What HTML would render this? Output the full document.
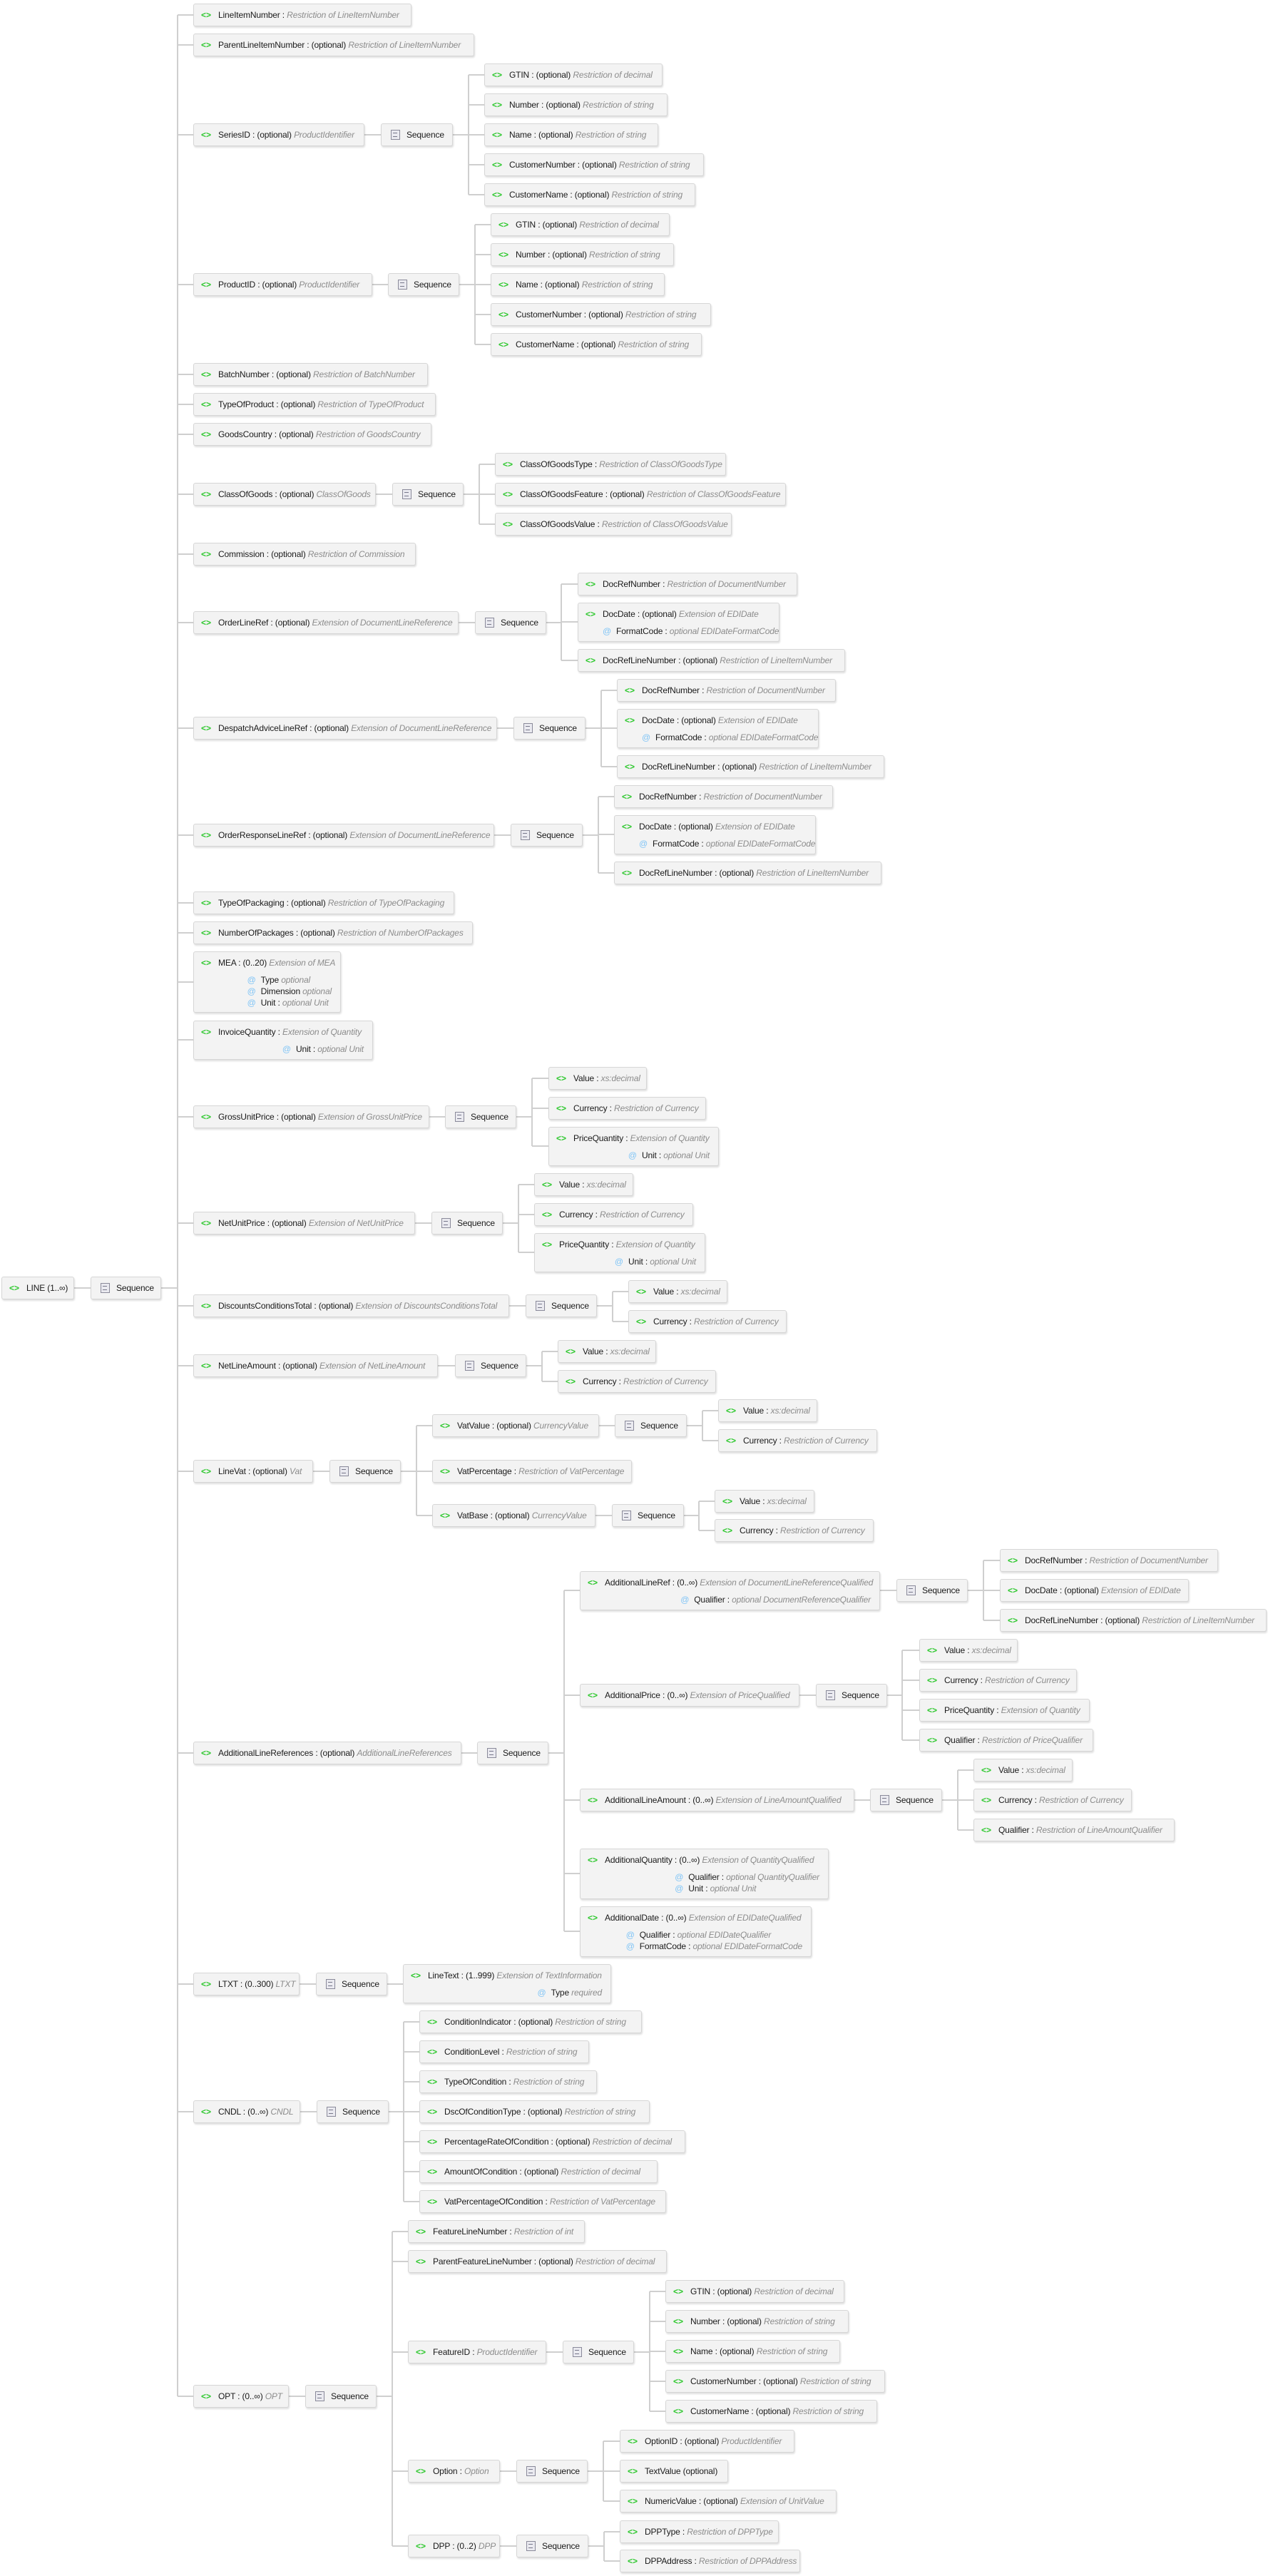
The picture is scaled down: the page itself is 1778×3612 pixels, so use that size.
<!DOCTYPE html>
<html><head><meta charset="utf-8">
<style>
html,body{margin:0;padding:0;background:#fff;}
body{width:1778px;height:3612px;position:relative;overflow:hidden;font-family:"Liberation Sans",sans-serif;font-size:12px;color:#1a1a1a;letter-spacing:-0.15px;}
svg{position:absolute;left:0;top:0;}
.e,.s{position:absolute;box-sizing:border-box;height:32px;background:#f3f3f3;border:1px solid #d6d6d6;border-radius:3px;box-shadow:1px 2px 2px rgba(0,0,0,0.13);white-space:nowrap;}
.e{padding-left:34px;line-height:30px;}
.e i.g{position:absolute;left:10px;top:0;font-style:normal;font-weight:bold;color:#2ec82e;letter-spacing:0;}
.e em{color:#8c8c8c;font-style:italic;}
.e .at{text-align:right;padding-right:12px;line-height:16px;margin-top:1px;}
.e .at div{display:inline-block;text-align:left;}
.e .at u{text-decoration:none;color:#7fc4f6;margin-right:7px;}
.s{line-height:30px;padding-left:35px;}
.s:before{content:"";position:absolute;left:13px;top:8px;width:11px;height:12px;border:1px solid #8a8a9a;background:#eaeaf0;}
.s:after{content:"";position:absolute;left:16px;top:12px;width:6px;height:4px;border-top:1px solid #77778a;border-bottom:1px solid #77778a;}
</style></head><body>
<svg width="1778" height="3612" viewBox="0 0 1778 3612"><g stroke="#cfcfcf" stroke-width="2" fill="none">
<path d="M104 1806H127M226 1806H249M249 21V3360"/>
<path d="M249 21H271M249 63H271M249 189H271M249 399H271M249 525H271M249 567H271M249 609H271M249 693H271M249 777H271M249 873H271M249 1021H271M249 1171H271M249 1266H271M249 1308H271M249 1377H271M249 1458H271M249 1566H271M249 1715H271M249 1831H271M249 1915H271M249 2063H271M249 2458H271M249 2782H271M249 2961H271M249 3360H271"/>
<path d="M511 189H534M635 189H657M657 105V273M657 105H679M657 147H679M657 189H679M657 231H679M657 273H679"/>
<path d="M522 399H544M644 399H666M666 315V483M666 315H688M666 357H688M666 399H688M666 441H688M666 483H688"/>
<path d="M527 693H550M650 693H672M672 651V735M672 651H694M672 693H694M672 735H694"/>
<path d="M643 873H666M766 873H787M787 819V926M787 819H810M787 872H810M787 926H810"/>
<path d="M697 1021H720M821 1021H843M843 968V1075M843 968H865M843 1021H865M843 1075H865"/>
<path d="M693 1171H716M817 1171H839M839 1117V1224M839 1117H861M839 1170H861M839 1224H861"/>
<path d="M602 1566H624M724 1566H746M746 1512V1607M746 1512H769M746 1554H769M746 1607H769"/>
<path d="M582 1715H605M705 1715H727M727 1661V1756M727 1661H749M727 1703H749M727 1756H749"/>
<path d="M714 1831H737M837 1831H859M859 1811V1853M859 1811H881M859 1853H881"/>
<path d="M614 1915H638M738 1915H760M760 1895V1937M760 1895H782M760 1937H782"/>
<path d="M439 2063H462M562 2063H584M584 1999V2125M584 1999H606M584 2063H606M584 2125H606"/>
<path d="M840 1999H862M963 1999H985M985 1978V2020M985 1978H1007M985 2020H1007"/>
<path d="M835 2125H858M959 2125H980M980 2105V2146M980 2105H1002M980 2146H1002"/>
<path d="M647 2458H669M769 2458H791M791 2230V2708M791 2230H813M791 2377H813M791 2524H813M791 2627H813M791 2708H813"/>
<path d="M1234 2230H1257M1357 2230H1379M1379 2188V2272M1379 2188H1402M1379 2230H1402M1379 2272H1402"/>
<path d="M1121 2377H1144M1244 2377H1265M1265 2314V2440M1265 2314H1289M1265 2356H1289M1265 2398H1289M1265 2440H1289"/>
<path d="M1198 2524H1220M1321 2524H1343M1343 2482V2566M1343 2482H1365M1343 2524H1365M1343 2566H1365"/>
<path d="M420 2782H443M543 2782H565"/>
<path d="M421 2961H444M545 2961H566M566 2835V3087M566 2835H588M566 2877H588M566 2919H588M566 2961H588M566 3003H588M566 3045H588M566 3087H588"/>
<path d="M405 3360H428M528 3360H550M550 3129V3570M550 3129H572M550 3171H572M550 3298H572M550 3465H572M550 3570H572"/>
<path d="M766 3298H789M889 3298H911M911 3213V3381M911 3213H933M911 3255H933M911 3297H933M911 3339H933M911 3381H933"/>
<path d="M701 3465H724M824 3465H846M846 3423V3507M846 3423H869M846 3465H869M846 3507H869"/>
<path d="M701 3570H724M825 3570H847M847 3550V3591M847 3550H869M847 3591H869"/>
</g></svg>

<div class="e" style="left:2px;top:1790px;width:102px"><i class="g">&lt;&gt;</i>LINE (1..∞)</div>
<div class="s" style="left:127px;top:1790px;width:99px">Sequence</div>

<div class="e" style="left:271px;top:5px;width:306px"><i class="g">&lt;&gt;</i>LineItemNumber : <em>Restriction of LineItemNumber</em></div>
<div class="e" style="left:271px;top:47px;width:394px"><i class="g">&lt;&gt;</i>ParentLineItemNumber : (optional) <em>Restriction of LineItemNumber</em></div>

<div class="e" style="left:271px;top:173px;width:240px"><i class="g">&lt;&gt;</i>SeriesID : (optional) <em>ProductIdentifier</em></div>
<div class="s" style="left:534px;top:173px;width:101px">Sequence</div>
<div class="e" style="left:679px;top:89px;width:250px"><i class="g">&lt;&gt;</i>GTIN : (optional) <em>Restriction of decimal</em></div>
<div class="e" style="left:679px;top:131px;width:257px"><i class="g">&lt;&gt;</i>Number : (optional) <em>Restriction of string</em></div>
<div class="e" style="left:679px;top:173px;width:244px"><i class="g">&lt;&gt;</i>Name : (optional) <em>Restriction of string</em></div>
<div class="e" style="left:679px;top:215px;width:308px"><i class="g">&lt;&gt;</i>CustomerNumber : (optional) <em>Restriction of string</em></div>
<div class="e" style="left:679px;top:257px;width:296px"><i class="g">&lt;&gt;</i>CustomerName : (optional) <em>Restriction of string</em></div>

<div class="e" style="left:271px;top:383px;width:251px"><i class="g">&lt;&gt;</i>ProductID : (optional) <em>ProductIdentifier</em></div>
<div class="s" style="left:544px;top:383px;width:100px">Sequence</div>
<div class="e" style="left:688px;top:299px;width:251px"><i class="g">&lt;&gt;</i>GTIN : (optional) <em>Restriction of decimal</em></div>
<div class="e" style="left:688px;top:341px;width:257px"><i class="g">&lt;&gt;</i>Number : (optional) <em>Restriction of string</em></div>
<div class="e" style="left:688px;top:383px;width:244px"><i class="g">&lt;&gt;</i>Name : (optional) <em>Restriction of string</em></div>
<div class="e" style="left:688px;top:425px;width:309px"><i class="g">&lt;&gt;</i>CustomerNumber : (optional) <em>Restriction of string</em></div>
<div class="e" style="left:688px;top:467px;width:296px"><i class="g">&lt;&gt;</i>CustomerName : (optional) <em>Restriction of string</em></div>

<div class="e" style="left:271px;top:509px;width:329px"><i class="g">&lt;&gt;</i>BatchNumber : (optional) <em>Restriction of BatchNumber</em></div>
<div class="e" style="left:271px;top:551px;width:340px"><i class="g">&lt;&gt;</i>TypeOfProduct : (optional) <em>Restriction of TypeOfProduct</em></div>
<div class="e" style="left:271px;top:593px;width:334px"><i class="g">&lt;&gt;</i>GoodsCountry : (optional) <em>Restriction of GoodsCountry</em></div>

<div class="e" style="left:271px;top:677px;width:256px"><i class="g">&lt;&gt;</i>ClassOfGoods : (optional) <em>ClassOfGoods</em></div>
<div class="s" style="left:550px;top:677px;width:100px">Sequence</div>
<div class="e" style="left:694px;top:635px;width:324px"><i class="g">&lt;&gt;</i>ClassOfGoodsType : <em>Restriction of ClassOfGoodsType</em></div>
<div class="e" style="left:694px;top:677px;width:408px"><i class="g">&lt;&gt;</i>ClassOfGoodsFeature : (optional) <em>Restriction of ClassOfGoodsFeature</em></div>
<div class="e" style="left:694px;top:719px;width:332px"><i class="g">&lt;&gt;</i>ClassOfGoodsValue : <em>Restriction of ClassOfGoodsValue</em></div>

<div class="e" style="left:271px;top:761px;width:312px"><i class="g">&lt;&gt;</i>Commission : (optional) <em>Restriction of Commission</em></div>

<div class="e" style="left:271px;top:857px;width:372px"><i class="g">&lt;&gt;</i>OrderLineRef : (optional) <em>Extension of DocumentLineReference</em></div>
<div class="s" style="left:666px;top:857px;width:100px">Sequence</div>
<div class="e" style="left:810px;top:803px;width:308px"><i class="g">&lt;&gt;</i>DocRefNumber : <em>Restriction of DocumentNumber</em></div>
<div class="e" style="left:810px;top:845px;width:283px;height:55px"><i class="g">&lt;&gt;</i>DocDate : (optional) <em>Extension of EDIDate</em><div class="at"><div><u>@</u>FormatCode : <em>optional EDIDateFormatCode</em></div></div></div>
<div class="e" style="left:810px;top:910px;width:375px"><i class="g">&lt;&gt;</i>DocRefLineNumber : (optional) <em>Restriction of LineItemNumber</em></div>

<div class="e" style="left:271px;top:1005px;width:426px"><i class="g">&lt;&gt;</i>DespatchAdviceLineRef : (optional) <em>Extension of DocumentLineReference</em></div>
<div class="s" style="left:720px;top:1005px;width:101px">Sequence</div>
<div class="e" style="left:865px;top:952px;width:307px"><i class="g">&lt;&gt;</i>DocRefNumber : <em>Restriction of DocumentNumber</em></div>
<div class="e" style="left:865px;top:994px;width:283px;height:55px"><i class="g">&lt;&gt;</i>DocDate : (optional) <em>Extension of EDIDate</em><div class="at"><div><u>@</u>FormatCode : <em>optional EDIDateFormatCode</em></div></div></div>
<div class="e" style="left:865px;top:1059px;width:375px"><i class="g">&lt;&gt;</i>DocRefLineNumber : (optional) <em>Restriction of LineItemNumber</em></div>

<div class="e" style="left:271px;top:1155px;width:422px"><i class="g">&lt;&gt;</i>OrderResponseLineRef : (optional) <em>Extension of DocumentLineReference</em></div>
<div class="s" style="left:716px;top:1155px;width:101px">Sequence</div>
<div class="e" style="left:861px;top:1101px;width:307px"><i class="g">&lt;&gt;</i>DocRefNumber : <em>Restriction of DocumentNumber</em></div>
<div class="e" style="left:861px;top:1143px;width:283px;height:55px"><i class="g">&lt;&gt;</i>DocDate : (optional) <em>Extension of EDIDate</em><div class="at"><div><u>@</u>FormatCode : <em>optional EDIDateFormatCode</em></div></div></div>
<div class="e" style="left:861px;top:1208px;width:375px"><i class="g">&lt;&gt;</i>DocRefLineNumber : (optional) <em>Restriction of LineItemNumber</em></div>

<div class="e" style="left:271px;top:1250px;width:366px"><i class="g">&lt;&gt;</i>TypeOfPackaging : (optional) <em>Restriction of TypeOfPackaging</em></div>
<div class="e" style="left:271px;top:1292px;width:392px"><i class="g">&lt;&gt;</i>NumberOfPackages : (optional) <em>Restriction of NumberOfPackages</em></div>
<div class="e" style="left:271px;top:1334px;width:207px;height:86px"><i class="g">&lt;&gt;</i>MEA : (0..20) <em>Extension of MEA</em><div class="at"><div><u>@</u>Type <em>optional</em><br><u>@</u>Dimension <em>optional</em><br><u>@</u>Unit : <em>optional Unit</em></div></div></div>
<div class="e" style="left:271px;top:1431px;width:252px;height:55px"><i class="g">&lt;&gt;</i>InvoiceQuantity : <em>Extension of Quantity</em><div class="at"><div><u>@</u>Unit : <em>optional Unit</em></div></div></div>

<div class="e" style="left:271px;top:1550px;width:331px"><i class="g">&lt;&gt;</i>GrossUnitPrice : (optional) <em>Extension of GrossUnitPrice</em></div>
<div class="s" style="left:624px;top:1550px;width:100px">Sequence</div>
<div class="e" style="left:769px;top:1496px;width:138px"><i class="g">&lt;&gt;</i>Value : <em>xs:decimal</em></div>
<div class="e" style="left:769px;top:1538px;width:221px"><i class="g">&lt;&gt;</i>Currency : <em>Restriction of Currency</em></div>
<div class="e" style="left:769px;top:1580px;width:239px;height:55px"><i class="g">&lt;&gt;</i>PriceQuantity : <em>Extension of Quantity</em><div class="at"><div><u>@</u>Unit : <em>optional Unit</em></div></div></div>

<div class="e" style="left:271px;top:1699px;width:311px"><i class="g">&lt;&gt;</i>NetUnitPrice : (optional) <em>Extension of NetUnitPrice</em></div>
<div class="s" style="left:605px;top:1699px;width:100px">Sequence</div>
<div class="e" style="left:749px;top:1645px;width:139px"><i class="g">&lt;&gt;</i>Value : <em>xs:decimal</em></div>
<div class="e" style="left:749px;top:1687px;width:223px"><i class="g">&lt;&gt;</i>Currency : <em>Restriction of Currency</em></div>
<div class="e" style="left:749px;top:1729px;width:240px;height:55px"><i class="g">&lt;&gt;</i>PriceQuantity : <em>Extension of Quantity</em><div class="at"><div><u>@</u>Unit : <em>optional Unit</em></div></div></div>

<div class="e" style="left:271px;top:1815px;width:443px"><i class="g">&lt;&gt;</i>DiscountsConditionsTotal : (optional) <em>Extension of DiscountsConditionsTotal</em></div>
<div class="s" style="left:737px;top:1815px;width:100px">Sequence</div>
<div class="e" style="left:881px;top:1795px;width:139px"><i class="g">&lt;&gt;</i>Value : <em>xs:decimal</em></div>
<div class="e" style="left:881px;top:1837px;width:222px"><i class="g">&lt;&gt;</i>Currency : <em>Restriction of Currency</em></div>

<div class="e" style="left:271px;top:1899px;width:343px"><i class="g">&lt;&gt;</i>NetLineAmount : (optional) <em>Extension of NetLineAmount</em></div>
<div class="s" style="left:638px;top:1899px;width:100px">Sequence</div>
<div class="e" style="left:782px;top:1879px;width:138px"><i class="g">&lt;&gt;</i>Value : <em>xs:decimal</em></div>
<div class="e" style="left:782px;top:1921px;width:222px"><i class="g">&lt;&gt;</i>Currency : <em>Restriction of Currency</em></div>

<div class="e" style="left:271px;top:2047px;width:168px"><i class="g">&lt;&gt;</i>LineVat : (optional) <em>Vat</em></div>
<div class="s" style="left:462px;top:2047px;width:100px">Sequence</div>
<div class="e" style="left:606px;top:1983px;width:234px"><i class="g">&lt;&gt;</i>VatValue : (optional) <em>CurrencyValue</em></div>
<div class="s" style="left:862px;top:1983px;width:101px">Sequence</div>
<div class="e" style="left:1007px;top:1962px;width:139px"><i class="g">&lt;&gt;</i>Value : <em>xs:decimal</em></div>
<div class="e" style="left:1007px;top:2004px;width:223px"><i class="g">&lt;&gt;</i>Currency : <em>Restriction of Currency</em></div>
<div class="e" style="left:606px;top:2047px;width:280px"><i class="g">&lt;&gt;</i>VatPercentage : <em>Restriction of VatPercentage</em></div>
<div class="e" style="left:606px;top:2109px;width:229px"><i class="g">&lt;&gt;</i>VatBase : (optional) <em>CurrencyValue</em></div>
<div class="s" style="left:858px;top:2109px;width:101px">Sequence</div>
<div class="e" style="left:1002px;top:2089px;width:140px"><i class="g">&lt;&gt;</i>Value : <em>xs:decimal</em></div>
<div class="e" style="left:1002px;top:2130px;width:223px"><i class="g">&lt;&gt;</i>Currency : <em>Restriction of Currency</em></div>

<div class="e" style="left:271px;top:2442px;width:376px"><i class="g">&lt;&gt;</i>AdditionalLineReferences : (optional) <em>AdditionalLineReferences</em></div>
<div class="s" style="left:669px;top:2442px;width:100px">Sequence</div>
<div class="e" style="left:813px;top:2203px;width:421px;height:55px"><i class="g">&lt;&gt;</i>AdditionalLineRef : (0..∞) <em>Extension of DocumentLineReferenceQualified</em><div class="at"><div><u>@</u>Qualifier : <em>optional DocumentReferenceQualifier</em></div></div></div>
<div class="s" style="left:1257px;top:2214px;width:100px">Sequence</div>
<div class="e" style="left:1402px;top:2172px;width:306px"><i class="g">&lt;&gt;</i>DocRefNumber : <em>Restriction of DocumentNumber</em></div>
<div class="e" style="left:1402px;top:2214px;width:265px"><i class="g">&lt;&gt;</i>DocDate : (optional) <em>Extension of EDIDate</em></div>
<div class="e" style="left:1402px;top:2256px;width:374px"><i class="g">&lt;&gt;</i>DocRefLineNumber : (optional) <em>Restriction of LineItemNumber</em></div>
<div class="e" style="left:813px;top:2361px;width:308px"><i class="g">&lt;&gt;</i>AdditionalPrice : (0..∞) <em>Extension of PriceQualified</em></div>
<div class="s" style="left:1144px;top:2361px;width:100px">Sequence</div>
<div class="e" style="left:1289px;top:2298px;width:138px"><i class="g">&lt;&gt;</i>Value : <em>xs:decimal</em></div>
<div class="e" style="left:1289px;top:2340px;width:221px"><i class="g">&lt;&gt;</i>Currency : <em>Restriction of Currency</em></div>
<div class="e" style="left:1289px;top:2382px;width:239px"><i class="g">&lt;&gt;</i>PriceQuantity : <em>Extension of Quantity</em></div>
<div class="e" style="left:1289px;top:2424px;width:244px"><i class="g">&lt;&gt;</i>Qualifier : <em>Restriction of PriceQualifier</em></div>
<div class="e" style="left:813px;top:2508px;width:385px"><i class="g">&lt;&gt;</i>AdditionalLineAmount : (0..∞) <em>Extension of LineAmountQualified</em></div>
<div class="s" style="left:1220px;top:2508px;width:101px">Sequence</div>
<div class="e" style="left:1365px;top:2466px;width:139px"><i class="g">&lt;&gt;</i>Value : <em>xs:decimal</em></div>
<div class="e" style="left:1365px;top:2508px;width:222px"><i class="g">&lt;&gt;</i>Currency : <em>Restriction of Currency</em></div>
<div class="e" style="left:1365px;top:2550px;width:282px"><i class="g">&lt;&gt;</i>Qualifier : <em>Restriction of LineAmountQualifier</em></div>
<div class="e" style="left:813px;top:2592px;width:349px;height:71px"><i class="g">&lt;&gt;</i>AdditionalQuantity : (0..∞) <em>Extension of QuantityQualified</em><div class="at"><div><u>@</u>Qualifier : <em>optional QuantityQualifier</em><br><u>@</u>Unit : <em>optional Unit</em></div></div></div>
<div class="e" style="left:813px;top:2673px;width:325px;height:71px"><i class="g">&lt;&gt;</i>AdditionalDate : (0..∞) <em>Extension of EDIDateQualified</em><div class="at"><div><u>@</u>Qualifier : <em>optional EDIDateQualifier</em><br><u>@</u>FormatCode : <em>optional EDIDateFormatCode</em></div></div></div>

<div class="e" style="left:271px;top:2766px;width:149px"><i class="g">&lt;&gt;</i>LTXT : (0..300) <em>LTXT</em></div>
<div class="s" style="left:443px;top:2766px;width:100px">Sequence</div>
<div class="e" style="left:565px;top:2754px;width:292px;height:55px"><i class="g">&lt;&gt;</i>LineText : (1..999) <em>Extension of TextInformation</em><div class="at"><div><u>@</u>Type <em>required</em></div></div></div>

<div class="e" style="left:271px;top:2945px;width:150px"><i class="g">&lt;&gt;</i>CNDL : (0..∞) <em>CNDL</em></div>
<div class="s" style="left:444px;top:2945px;width:101px">Sequence</div>
<div class="e" style="left:588px;top:2819px;width:312px"><i class="g">&lt;&gt;</i>ConditionIndicator : (optional) <em>Restriction of string</em></div>
<div class="e" style="left:588px;top:2861px;width:238px"><i class="g">&lt;&gt;</i>ConditionLevel : <em>Restriction of string</em></div>
<div class="e" style="left:588px;top:2903px;width:249px"><i class="g">&lt;&gt;</i>TypeOfCondition : <em>Restriction of string</em></div>
<div class="e" style="left:588px;top:2945px;width:323px"><i class="g">&lt;&gt;</i>DscOfConditionType : (optional) <em>Restriction of string</em></div>
<div class="e" style="left:588px;top:2987px;width:373px"><i class="g">&lt;&gt;</i>PercentageRateOfCondition : (optional) <em>Restriction of decimal</em></div>
<div class="e" style="left:588px;top:3029px;width:334px"><i class="g">&lt;&gt;</i>AmountOfCondition : (optional) <em>Restriction of decimal</em></div>
<div class="e" style="left:588px;top:3071px;width:346px"><i class="g">&lt;&gt;</i>VatPercentageOfCondition : <em>Restriction of VatPercentage</em></div>

<div class="e" style="left:271px;top:3344px;width:134px"><i class="g">&lt;&gt;</i>OPT : (0..∞) <em>OPT</em></div>
<div class="s" style="left:428px;top:3344px;width:100px">Sequence</div>
<div class="e" style="left:572px;top:3113px;width:248px"><i class="g">&lt;&gt;</i>FeatureLineNumber : <em>Restriction of int</em></div>
<div class="e" style="left:572px;top:3155px;width:363px"><i class="g">&lt;&gt;</i>ParentFeatureLineNumber : (optional) <em>Restriction of decimal</em></div>
<div class="e" style="left:572px;top:3282px;width:194px"><i class="g">&lt;&gt;</i>FeatureID : <em>ProductIdentifier</em></div>
<div class="s" style="left:789px;top:3282px;width:100px">Sequence</div>
<div class="e" style="left:933px;top:3197px;width:251px"><i class="g">&lt;&gt;</i>GTIN : (optional) <em>Restriction of decimal</em></div>
<div class="e" style="left:933px;top:3239px;width:257px"><i class="g">&lt;&gt;</i>Number : (optional) <em>Restriction of string</em></div>
<div class="e" style="left:933px;top:3281px;width:245px"><i class="g">&lt;&gt;</i>Name : (optional) <em>Restriction of string</em></div>
<div class="e" style="left:933px;top:3323px;width:308px"><i class="g">&lt;&gt;</i>CustomerNumber : (optional) <em>Restriction of string</em></div>
<div class="e" style="left:933px;top:3365px;width:297px"><i class="g">&lt;&gt;</i>CustomerName : (optional) <em>Restriction of string</em></div>
<div class="e" style="left:572px;top:3449px;width:129px"><i class="g">&lt;&gt;</i>Option : <em>Option</em></div>
<div class="s" style="left:724px;top:3449px;width:100px">Sequence</div>
<div class="e" style="left:869px;top:3407px;width:245px"><i class="g">&lt;&gt;</i>OptionID : (optional) <em>ProductIdentifier</em></div>
<div class="e" style="left:869px;top:3449px;width:152px"><i class="g">&lt;&gt;</i>TextValue (optional)</div>
<div class="e" style="left:869px;top:3491px;width:304px"><i class="g">&lt;&gt;</i>NumericValue : (optional) <em>Extension of UnitValue</em></div>
<div class="e" style="left:572px;top:3554px;width:129px"><i class="g">&lt;&gt;</i>DPP : (0..2) <em>DPP</em></div>
<div class="s" style="left:724px;top:3554px;width:101px">Sequence</div>
<div class="e" style="left:869px;top:3534px;width:223px"><i class="g">&lt;&gt;</i>DPPType : <em>Restriction of DPPType</em></div>
<div class="e" style="left:869px;top:3575px;width:253px"><i class="g">&lt;&gt;</i>DPPAddress : <em>Restriction of DPPAddress</em></div>
</body></html>
